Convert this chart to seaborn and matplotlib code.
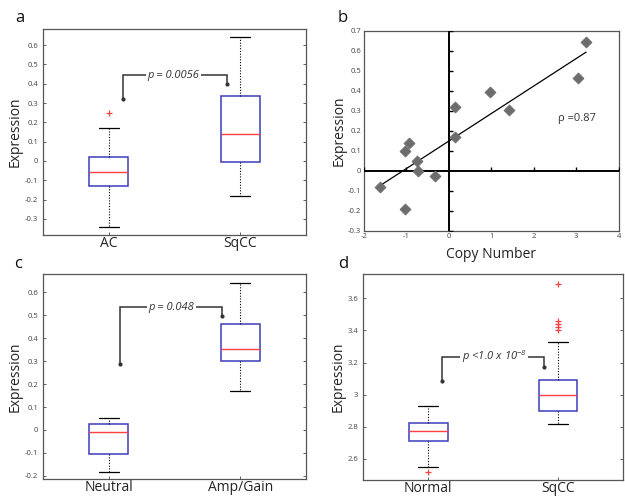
import numpy as np
import pandas as pd
import matplotlib
matplotlib.use("Agg")
import matplotlib.pyplot as plt
import seaborn as sns

# ---------------- data ----------------
# box statistics: whisker low, Q1, median, Q3, whisker high, outliers
a_groups = ["AC", "SqCC"]
a_whislo = [-0.34, -0.18]
a_q1 = [-0.13, -0.005]
a_med = [-0.055, 0.14]
a_q3 = [0.02, 0.335]
a_whishi = [0.17, 0.64]
a_fliers = [[0.25], []]

c_groups = ["Neutral", "Amp/Gain"]
c_whislo = [-0.185, 0.17]
c_q1 = [-0.103, 0.30]
c_med = [-0.01, 0.355]
c_q3 = [0.027, 0.46]
c_whishi = [0.05, 0.64]
c_fliers = [[], []]

d_groups = ["Normal", "SqCC"]
d_whislo = [2.55, 2.82]
d_q1 = [2.71, 2.90]
d_med = [2.775, 3.0]
d_q3 = [2.825, 3.09]
d_whishi = [2.93, 3.33]
d_fliers = [[2.52], [3.40, 3.42, 3.44, 3.46, 3.69]]

# scatter panel b
copy_number = [-1.62, -1.04, -0.95, -1.04, -0.75, -0.73, -0.32, 0.15, 0.14, 0.96, 1.42, 3.04, 3.23]
expression_b = [-0.082, 0.10, 0.138, -0.19, 0.048, -0.003, -0.027, 0.318, 0.168, 0.395, 0.302, 0.463, 0.643]
rho_text = "\u03c1 =0.87"

a_ticks = [-0.3, -0.2, -0.1, 0, 0.1, 0.2, 0.3, 0.4, 0.5, 0.6]
c_ticks = [-0.2, -0.1, 0, 0.1, 0.2, 0.3, 0.4, 0.5, 0.6]
d_ticks = [2.6, 2.8, 3.0, 3.2, 3.4, 3.6]
d_ticklabels = ["2.6", "2.8", "3", "3.2", "3.4", "3.6"]
b_xticks = [-2, -1, 0, 1, 2, 3, 4]
b_yticks = [-0.3, -0.2, -0.1, 0, 0.1, 0.2, 0.3, 0.4, 0.5, 0.6, 0.7]


def build_samples(groups, lo, q1, med, q3, hi, fliers, m=10):
    """Sample values reproducing the read box statistics."""
    rows = []
    for i, g in enumerate(groups):
        vals = [lo[i]] + [q1[i]] * m + [med[i]] * m + [q3[i]] * m + [hi[i]] + list(fliers[i])
        rows += [(g, v) for v in vals]
    return pd.DataFrame(rows, columns=["group", "value"])


df_a = build_samples(a_groups, a_whislo, a_q1, a_med, a_q3, a_whishi, a_fliers)
df_c = build_samples(c_groups, c_whislo, c_q1, c_med, c_q3, c_whishi, c_fliers)
df_d = build_samples(d_groups, d_whislo, d_q1, d_med, d_q3, d_whishi, d_fliers)

# ---------------- style ----------------
sns.set_style("ticks")
plt.rcParams["font.family"] = ["Open Sans", "DejaVu Sans"]
plt.rcParams["mathtext.default"] = "regular"

FRAME = "#555555"
TICKC = "#444444"
BLUE = "#3c3cbd"
RED = "#ff4040"

fig = plt.figure(figsize=(6.25, 4.97), dpi=100)
ax_a = fig.add_axes([0.0688, 0.5272, 0.4208, 0.4144])
ax_b = fig.add_axes([0.5824, 0.5358, 0.4076, 0.4024])
ax_c = fig.add_axes([0.0688, 0.0362, 0.4208, 0.4125])
ax_d = fig.add_axes([0.5808, 0.0342, 0.4160, 0.4145])


def style_frame(ax):
    for s in ax.spines.values():
        s.set_visible(True)
        s.set_color(FRAME)
        s.set_linewidth(0.9)
    ax.tick_params(axis="both", direction="in", length=2.5, width=0.6, color=TICKC,
                   labelsize=5.5, labelcolor=TICKC)


def box_panel(ax, df, order, ylim, yticks, yticklabels=None):
    sns.boxplot(data=df, x="group", y="value", order=order, ax=ax, width=0.3,
                color="white", linecolor=BLUE, linewidth=1.0,
                boxprops=dict(facecolor="white", edgecolor=BLUE, linewidth=1.1),
                medianprops=dict(color=RED, linewidth=1.0),
                whiskerprops=dict(color="black", linestyle=(0, (1, 1.5)), linewidth=0.8),
                capprops=dict(color="black", linewidth=0.9),
                flierprops=dict(marker="+", markeredgecolor=RED, markerfacecolor=RED,
                                markersize=5, markeredgewidth=0.9, linestyle="none"))
    ax.set_xlim(-0.5, 1.5)
    ax.set_ylim(*ylim)
    ax.set_yticks(yticks)
    if yticklabels is None:
        yticklabels = [("0" if abs(t) < 1e-9 else f"{t:g}") for t in yticks]
    ax.set_yticklabels(yticklabels)
    style_frame(ax)
    ax.tick_params(axis="y", right=True)
    ax.tick_params(axis="x", labelsize=10, labelcolor="#222222", pad=1)
    ax.set_xlabel("")
    ax.set_ylabel("Expression", fontsize=10, color="#222222", labelpad=1.5)


def bracket(ax, x0, y0, x1, y1, ytop, text, xt):
    ax.plot([x0, x0, x1, x1], [y0, ytop, ytop, y1], color="#333333", lw=1.1,
            solid_joinstyle="miter", zorder=4)
    ax.plot([x0, x1], [y0, y1], ls="none", marker="o", ms=2, color="#333333", zorder=4)
    ax.text(xt, ytop, text, ha="center", va="center", fontsize=8, style="italic",
            color="#333333", zorder=5,
            bbox=dict(facecolor="white", edgecolor="none", pad=1.2))


# panel a
box_panel(ax_a, df_a, a_groups, (-0.383, 0.683), a_ticks)
bracket(ax_a, 0.11, 0.319, 0.90, 0.398, 0.443, "p = 0.0056", 0.49)

# panel c
box_panel(ax_c, df_c, c_groups, (-0.214, 0.68), c_ticks)
bracket(ax_c, 0.083, 0.286, 0.865, 0.497, 0.534, "p = 0.048", 0.475)

# panel d
box_panel(ax_d, df_d, d_groups, (2.469, 3.751), d_ticks, d_ticklabels)
bracket(ax_d, 0.11, 3.085, 0.896, 3.174, 3.237, r"p <1.0 x 10$^{-8}$", 0.51)

# panel b
sns.regplot(x=copy_number, y=expression_b, ax=ax_b, scatter=False, ci=None,
            truncate=True, color="black", line_kws=dict(lw=0.9))
sns.scatterplot(x=copy_number, y=expression_b, ax=ax_b, marker="D", s=32,
                color="#6d6d6d", edgecolor="#6d6d6d", linewidth=0.5, zorder=5)
ax_b.set_xlim(-2, 4)
ax_b.set_ylim(-0.3, 0.7)
ax_b.set_xticks(b_xticks)
ax_b.set_xticklabels([str(t) for t in b_xticks])
ax_b.set_yticks(b_yticks)
ax_b.set_yticklabels([("0" if abs(t) < 1e-9 else f"{t:g}") for t in b_yticks])
style_frame(ax_b)
ax_b.tick_params(axis="both", length=0, pad=2)
ax_b.axhline(0, color="black", lw=1.4, zorder=3)
ax_b.axvline(0, color="black", lw=1.4, zorder=3)
xt_on = [t for t in b_xticks if t != 0]
yt_on = [t for t in b_yticks if abs(t) > 1e-9]
ax_b.plot(xt_on, [0] * len(xt_on), ls="none", marker=2, ms=3, mew=1.0, color="black", zorder=3)
ax_b.plot([0] * len(yt_on), yt_on, ls="none", marker=1, ms=3, mew=1.0, color="black", zorder=3)
ax_b.text(2.56, 0.263, rho_text, fontsize=8, color="#333333", ha="left", va="center")
ax_b.set_xlabel("Copy Number", fontsize=10, color="#222222", labelpad=5)
ax_b.set_ylabel("Expression", fontsize=10, color="#222222", labelpad=1)

# panel letters
for lab, (x, y) in zip("abcd", [(15, 18), (338, 18), (14, 264), (338, 264)]):
    fig.text(x / 625, 1 - y / 497, lab, fontsize=12, color="#111111", ha="left", va="center")

fig.savefig("out.png", dpi=100)
